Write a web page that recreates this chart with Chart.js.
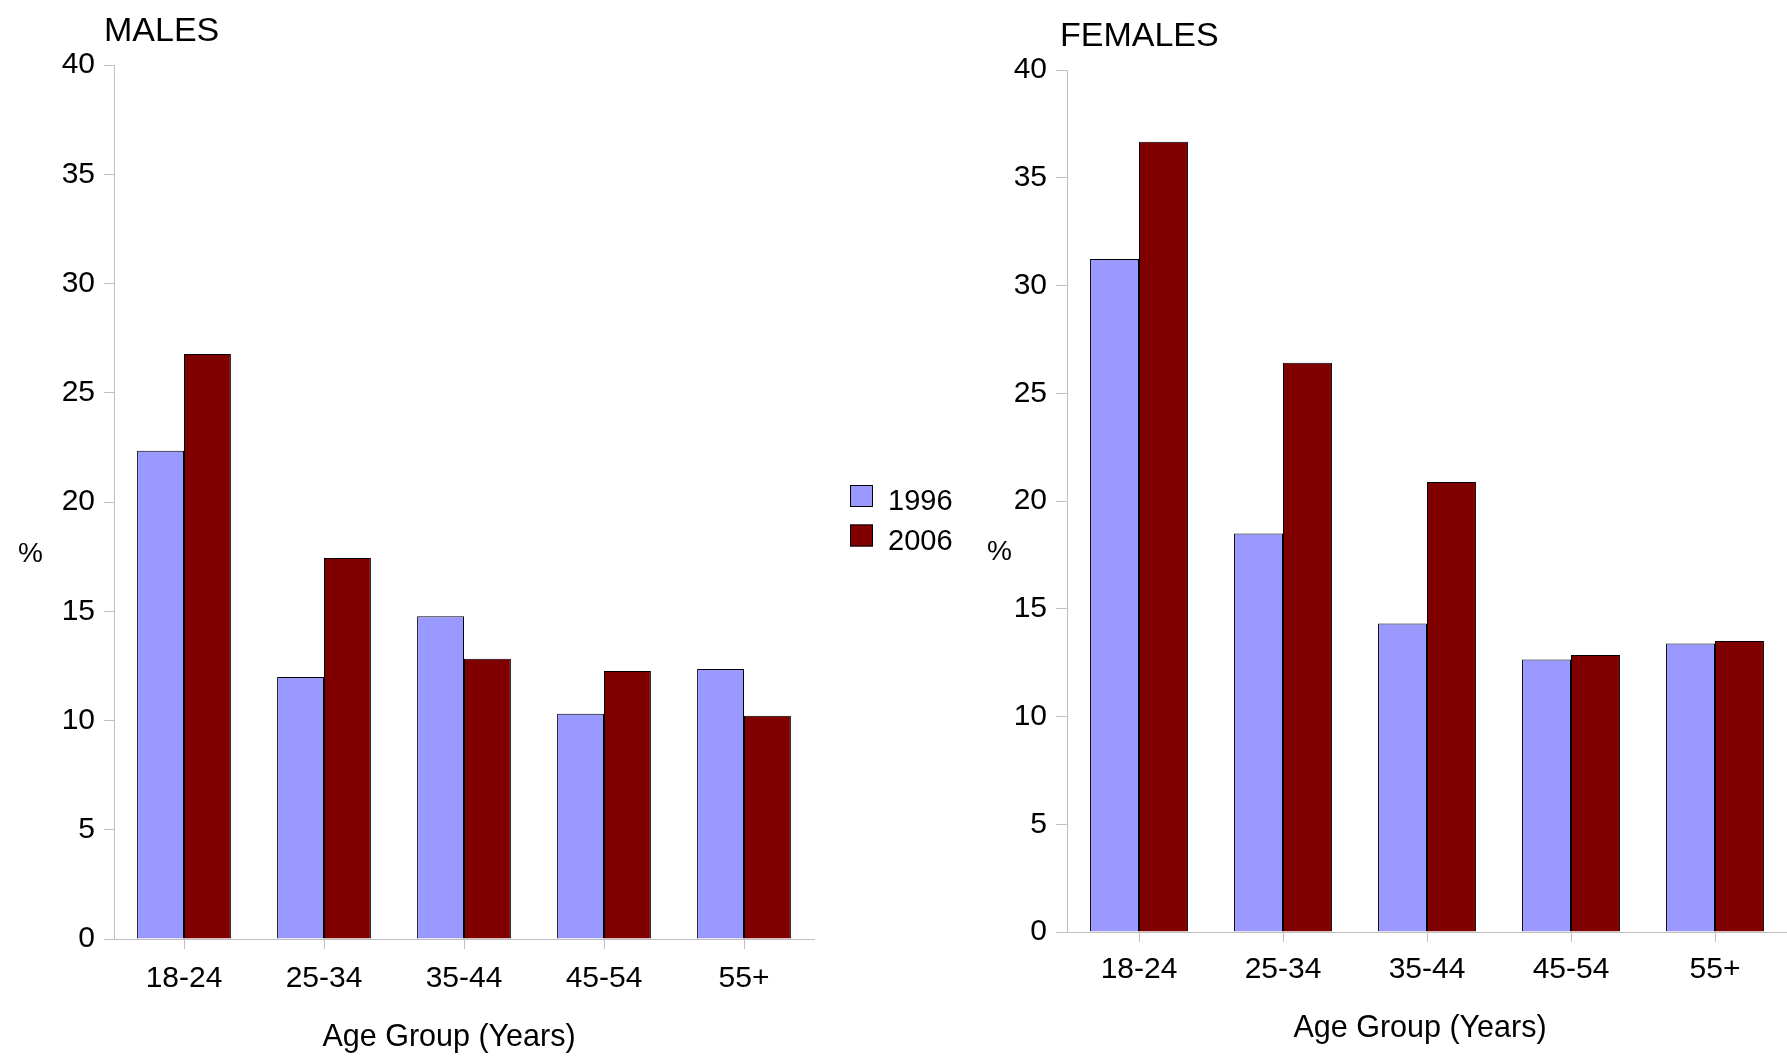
<!DOCTYPE html>
<html><head><meta charset="utf-8">
<script src="https://cdn.jsdelivr.net/npm/chart.js@4/dist/chart.umd.min.js"></script>
<style>
html,body{margin:0;padding:0;background:#fff;}
body{width:1787px;height:1057px;position:relative;overflow:hidden;}
canvas{position:absolute;top:0;}
</style></head><body>
<canvas id="m" width="960" height="1057" style="left:0;width:960px;height:1057px"></canvas>
<canvas id="f" width="827" height="1057" style="left:960px;width:827px;height:1057px"></canvas>
<script>
const categories = ['18-24', '25-34', '35-44', '45-54', '55+'];
const seriesLabels = ['1996', '2006'];
const males1996 = [22.35, 11.99, 14.77, 10.31, 12.36];
const males2006 = [26.77, 17.44, 12.83, 12.27, 10.22];
const females1996 = [31.23, 18.49, 14.31, 12.64, 13.39];
const females2006 = [36.67, 26.42, 20.88, 12.85, 13.50];
const yMin = 0, yMax = 40, yStep = 5;
const xTitle = 'Age Group (Years)';
const yTitle = '%';
const colors = ['#9999ff', '#800000'];

Chart.defaults.font.family = '"Liberation Sans", Arial, sans-serif';
Chart.defaults.color = '#000';

const decor = {
  id: 'decor',
  afterDraw(chart, args, o) {
    const ctx = chart.ctx;
    ctx.save();
    ctx.fillStyle = '#000';
    ctx.textBaseline = 'alphabetic';
    ctx.textAlign = 'left';
    ctx.font = '34px "Liberation Sans"';
    ctx.fillText(o.title, o.titleX, o.titleY);
    ctx.font = '28px "Liberation Sans"';
    ctx.fillText(yTitle, o.pctX, o.pctY);
    ctx.font = '30.5px "Liberation Sans"';
    ctx.textAlign = 'center';
    ctx.textBaseline = 'middle';
    ctx.fillText(xTitle, o.xtX, o.xtY);
    ctx.textAlign = 'left';
    ctx.textBaseline = 'alphabetic';
    if (o.legend) {
      ctx.font = '29px "Liberation Sans"';
      chart.data.datasets.forEach((ds, i) => {
        const y = o.legend.y + i * o.legend.gap;
        ctx.fillStyle = ds.backgroundColor;
        ctx.fillRect(o.legend.x, y, 23, 22);
        ctx.strokeStyle = '#000';
        ctx.lineWidth = 1;
        ctx.strokeRect(o.legend.x + 0.5, y + 0.5, 22, 21);
        ctx.fillStyle = '#000';
        ctx.fillText(ds.label, o.legend.x + 38, y + 25);
      });
    }
    ctx.restore();
  }
};

function make(id, d1, d2, g) {
  return new Chart(document.getElementById(id), {
    type: 'bar',
    data: {
      labels: categories,
      datasets: [
        { label: seriesLabels[0], data: d1, backgroundColor: colors[0], borderColor: '#000', borderWidth: 1, categoryPercentage: g.cat, barPercentage: 1.0 },
        { label: seriesLabels[1], data: d2, backgroundColor: colors[1], borderColor: '#000', borderWidth: 1, categoryPercentage: g.cat, barPercentage: 1.0 }
      ]
    },
    options: {
      responsive: false,
      devicePixelRatio: 1,
      animation: false,
      layout: { padding: { top: g.top, left: 0, right: g.right, bottom: 0 } },
      plugins: {
        legend: { display: false },
        title: { display: false },
        tooltip: { enabled: false },
        decor: g.decor
      },
      scales: {
        x: {
          offset: true,
          grid: { display: true, drawOnChartArea: false, drawTicks: true, tickLength: 10, color: '#c0c0c0', offset: false },
          border: { display: true, color: '#c0c0c0', width: 1 },
          ticks: { color: '#000', font: { size: 30 }, padding: g.xPad, maxRotation: 0, autoSkip: false },
          title: { display: false },
          afterFit: s => { s.height = g.xH; }
        },
        y: {
          min: yMin, max: yMax,
          grid: { drawOnChartArea: false, tickLength: g.yTick, color: '#c0c0c0' },
          border: { display: true, color: '#c0c0c0', width: 1 },
          ticks: { stepSize: yStep, color: '#000', font: { size: 30 }, padding: 9 },
          afterFit: s => { s.width = g.yW; }
        }
      }
    },
    plugins: [decor]
  });
}

make('m', males1996, males2006, {
  cat: 0.67, top: 65, right: 146, xPad: 12, xH: 118, yTick: 10, yW: 114,
  decor: { title: 'MALES', titleX: 104, titleY: 41, pctX: 18, pctY: 562, xtX: 449, xtY: 1038,
           legend: { x: 850, y: 485, gap: 39.5 } }
});
make('f', females1996, females2006, {
  cat: 0.68, top: 70, right: 0, xPad: 10, xH: 125, yTick: 11, yW: 107,
  decor: { title: 'FEMALES', titleX: 100, titleY: 46, pctX: 27, pctY: 560, xtX: 460, xtY: 1029, legend: null }
});
</script>
</body></html>
